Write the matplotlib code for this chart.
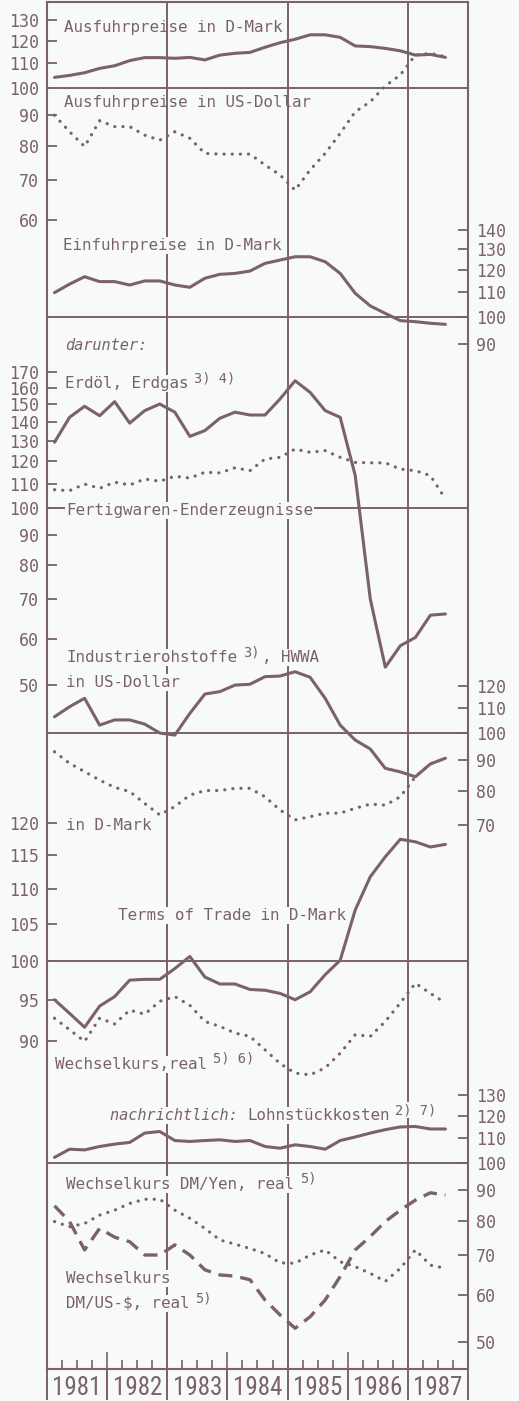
import numpy as np
import matplotlib
matplotlib.use("Agg")
import matplotlib.pyplot as plt
from matplotlib.ticker import FixedLocator, NullLocator, FuncFormatter
from matplotlib import font_manager

# quarterly values 1981 Q1 .. 1987 Q3 (index, 1980 = 100)
quarters = [f"{y}Q{q}" for y in range(1981, 1988) for q in range(1, 5)][:27]

ausfuhr_dm = [104.2, 105.0, 106.1, 107.9, 109.0, 111.2, 112.5, 112.5, 112.2, 112.6, 111.5, 113.6, 114.4, 114.8,
              117.1, 119.2, 120.8, 122.9, 122.9, 121.7, 117.7, 117.4, 116.6, 115.5, 113.6, 113.9, 112.6]
ausfuhr_usd = [90.0, 84.4, 79.7, 88.1, 86.1, 86.1, 83.3, 81.7, 84.4, 82.3, 77.6, 77.4, 77.4, 77.4,
               74.2, 71.4, 67.3, 72.8, 77.6, 83.9, 91.2, 94.8, 100.8, 105.2, 113.6, 114.4, 112.9]
einfuhr_dm = [109.9, 113.6, 116.9, 114.7, 114.7, 113.2, 115.0, 115.0, 113.2, 112.2, 116.2, 118.0, 118.4, 119.5,
              123.1, 124.7, 126.3, 126.3, 123.9, 118.4, 109.6, 104.4, 101.4, 98.6, 98.2, 97.6, 97.2]
erdoel = [129.3, 142.5, 148.8, 143.4, 151.5, 139.3, 146.3, 150.1, 145.4, 132.3, 135.3, 142.0, 145.4, 143.8,
          143.8, 153.1, 164.4, 157.1, 146.3, 142.5, 113.5, 70.1, 53.7, 58.4, 60.3, 65.8, 66.1]
fertigwaren = [107.4, 107.0, 109.8, 108.0, 110.6, 109.4, 112.0, 111.0, 113.2, 112.4, 115.0, 114.7, 117.0, 115.7,
               121.1, 121.9, 125.9, 124.3, 125.1, 121.9, 119.5, 119.3, 119.3, 116.4, 115.7, 113.5, 103.6]
rohstoffe_usd = [106.5, 110.7, 114.4, 103.1, 105.2, 105.2, 103.5, 100.0, 99.2, 107.9, 116.3, 117.4, 120.4, 120.8,
                 124.4, 124.7, 126.8, 124.1, 114.4, 103.1, 97.3, 94.0, 87.2, 86.0, 84.4, 88.7, 90.7]
rohstoffe_dm = [93.0, 88.9, 86.1, 83.3, 81.0, 79.7, 76.1, 72.8, 75.2, 78.6, 80.0, 80.0, 80.7, 80.7,
                78.1, 74.2, 71.4, 72.3, 73.3, 73.3, 74.7, 75.9, 75.6, 78.1, 84.4, 88.7, 90.7]
terms_of_trade = [95.0, 93.3, 91.6, 94.2, 95.4, 97.5, 97.6, 97.6, 99.0, 100.6, 97.9, 97.0, 97.0, 96.3,
                  96.2, 95.8, 95.0, 96.0, 98.2, 100.1, 107.0, 111.8, 114.8, 117.5, 117.1, 116.3, 116.7]
wechselkurs_real = [92.7, 91.3, 89.9, 92.7, 92.0, 93.7, 93.2, 94.8, 95.4, 94.3, 92.3, 91.7, 90.9, 90.5,
                    88.9, 87.3, 86.2, 86.0, 86.8, 88.5, 90.7, 90.5, 92.3, 94.6, 97.1, 95.8, 94.6]
lohnstueckkosten = [102.2, 105.5, 105.2, 106.6, 107.6, 108.3, 112.3, 113.0, 109.1, 108.7, 109.1, 109.4, 108.7, 109.1,
                    106.6, 105.9, 107.3, 106.6, 105.5, 109.1, 110.6, 112.3, 113.8, 115.0, 115.2, 114.1, 114.1]
dm_yen = [79.7, 78.1, 79.1, 81.7, 83.3, 85.5, 86.9, 86.9, 83.3, 80.7, 77.6, 74.2, 73.0, 71.8,
          70.4, 67.9, 67.8, 70.0, 71.4, 68.2, 66.9, 65.2, 63.2, 66.5, 71.4, 67.3, 66.5]
dm_usd = [84.7, 79.7, 71.4, 77.6, 75.0, 73.7, 70.0, 70.0, 72.8, 70.0, 66.1, 64.8, 64.5, 63.6,
          58.8, 55.5, 52.7, 55.1, 58.8, 64.4, 71.4, 75.2, 79.7, 83.3, 86.6, 89.1, 88.3]

years = list(range(1981, 1988))

# plot each quarter in the middle of its quarter
x = np.array([int(q[:4]) + (int(q[-1]) - 0.5) / 4 for q in quarters])

W, H = 519, 1401
L, R, T, B = 47, 468, 2, 1369
INK = "#7a6266"
BG = "#f7f9fb"
MONO = "DejaVu Sans Mono"
FS = 11.4

# a narrow face for the year strip, if one is around
fonts = font_manager.fontManager.ttflist
names = {f.name for f in fonts}
year_font = dict(family="Liberation Sans", fontsize=16)
for cand in ("Liberation Sans Narrow", "Roboto Condensed", "Open Sans Condensed", "DejaVu Sans Condensed"):
    if cand in names:
        year_font = dict(family=cand, fontsize=18)
        break
else:
    if any(f.name == "DejaVu Sans" and f.stretch == "condensed" for f in fonts):
        year_font = dict(family="DejaVu Sans", fontstretch="condensed", fontsize=16.5)

fig = plt.figure(figsize=(W / 100, H / 100), dpi=100, facecolor=BG)
rect = [L / W, 1 - B / H, (R - L) / W, (B - T) / H]

# base axes in pixel rows: frame, separators, labels
base = fig.add_axes(rect, zorder=0, label="base")
base.set_facecolor(BG)
base.set_xlim(1981, 1988)
base.set_ylim(B, T)
base.set_xticks([])
base.set_yticks([])
for s in base.spines.values():
    s.set_color(INK)
    s.set_linewidth(1.5)

# (pixel row of the 100 line, pixels per ln-unit, ticks, side)
scales = {
    "ausfuhr": (88, 258, [60, 70, 80, 90, 100, 110, 120, 130], "left"),
    "einfuhr": (317, 258, [90, 100, 110, 120, 130, 140], "right"),
    "erdoel": (508, 256, [50, 60, 70, 80, 90, 100, 110, 120, 130, 140, 150, 160, 170], "left"),
    "rohstoffe": (733, 258, [70, 80, 90, 100, 110, 120], "right"),
    "tot": (961, 755, [90, 95, 100, 105, 110, 115, 120], "left"),
    "lohn": (1163, 258, [50, 60, 70, 80, 90, 100, 110, 120, 130], "right"),
}

for y0, k, ticks, side in scales.values():
    base.axhline(y0, color=INK, lw=1.4, zorder=1)
for yr in (1983, 1985, 1987):
    base.axvline(yr, color=INK, lw=1.4, zorder=1)

# year strip below the frame
base.vlines(range(1981, 1989), B, H - 1, color=INK, lw=1.4, clip_on=False)
qx = [y + q / 4 for y in years for q in (1, 2, 3)]
base.vlines(qx, B - 9, B, color=INK, lw=1.2)
base.vlines([1982, 1984, 1986], B - 17, B, color=INK, lw=1.2)
for yr in years:
    base.text(yr + 0.5, 1388, str(yr), ha="center", va="center", color=INK, clip_on=False, **year_font)


def label(parts, x0, y_base, box=True):
    xp = x0
    for txt, kind in parts:
        fs = 9.8 if kind == "fn" else (FS * 0.96 if kind == "it" else FS)
        dy = -6 if kind == "fn" else 0
        if kind == "fn":
            xp += 5
        style = "italic" if kind == "it" else "normal"
        bb = dict(fc=BG, ec="none", pad=1.0) if box else None
        base.text(xp / W, 1 - (y_base + dy) / H, txt, transform=fig.transFigure, fontsize=fs,
                  family=MONO, style=style, color=INK, ha="left", va="baseline", bbox=bb, zorder=5)
        xp += len(txt) * 0.602 * fs * 100 / 72 + (3 if kind == "fn" else 0)


label([("Ausfuhrpreise in D-Mark", "n")], 64, 32, box=False)
label([("Ausfuhrpreise in US-Dollar", "n")], 64, 107, box=False)
label([("Einfuhrpreise in D-Mark", "n")], 63, 250)
label([("darunter:", "it")], 65, 350)
label([("Erdöl, Erdgas", "n"), ("3) 4)", "fn")], 65, 388)
label([("Fertigwaren-Enderzeugnisse", "n")], 66, 515)
label([("Industrierohstoffe", "n"), ("3)", "fn"), (", HWWA", "n")], 66, 662)
label([("in US-Dollar", "n")], 66, 687)
label([("in D-Mark", "n")], 66, 830)
label([("Terms of Trade in D-Mark", "n")], 118, 920)
label([("Wechselkurs,real", "n"), ("5) 6)", "fn")], 55, 1069)
label([("nachrichtlich: ", "it"), ("Lohnstückkosten", "n"), ("2) 7)", "fn")], 110, 1120)
label([("Wechselkurs DM/Yen, real", "n"), ("5)", "fn")], 66, 1189)
label([("Wechselkurs", "n")], 66, 1283)
label([("DM/US-$, real", "n"), ("5)", "fn")], 66, 1308)


def scale_axes(name):
    y0, k, ticks, side = scales[name]
    ax = fig.add_axes(rect, zorder=2, label=name)
    ax.set_yscale("log")
    ax.set_xlim(1981, 1988)
    ax.set_ylim(100 * np.exp((y0 - B) / k), 100 * np.exp((y0 - T) / k))
    ax.patch.set_visible(False)
    for s in ax.spines.values():
        s.set_visible(False)
    ax.set_xticks([])
    ax.yaxis.set_major_locator(FixedLocator(ticks))
    ax.yaxis.set_minor_locator(NullLocator())
    ax.yaxis.set_major_formatter(FuncFormatter(lambda v, p: f"{v:g}"))
    ax.yaxis.set_ticks_position(side)
    ax.yaxis.set_label_position(side)
    ax.tick_params(axis="y", direction="in", length=7, width=1.3, color=INK, labelcolor=INK,
                   labelsize=12, pad=5.5)
    for t in ax.get_yticklabels():
        t.set_family(MONO)
    return ax


SOLID = dict(color=INK, lw=2.2, solid_joinstyle="round", solid_capstyle="round")
DOT = dict(color=INK, lw=2.3, linestyle=(0, (0.05, 2.5)), dash_capstyle="round")
DASH = dict(color=INK, lw=2.4, linestyle=(0, (4.2, 2.4)), dash_capstyle="butt")

ax = scale_axes("ausfuhr")
ax.plot(x, ausfuhr_dm, **SOLID)
ax.plot(x, ausfuhr_usd, **DOT)

ax = scale_axes("einfuhr")
ax.plot(x, einfuhr_dm, **SOLID)

ax = scale_axes("erdoel")
ax.plot(x, erdoel, **SOLID)
ax.plot(x, fertigwaren, **DOT)

ax = scale_axes("rohstoffe")
ax.plot(x, rohstoffe_usd, **SOLID)
ax.plot(x, rohstoffe_dm, **DOT)

ax = scale_axes("tot")
ax.plot(x, terms_of_trade, **SOLID)
ax.plot(x, wechselkurs_real, **DOT)

ax = scale_axes("lohn")
ax.plot(x, lohnstueckkosten, **SOLID)
ax.plot(x, dm_yen, **DOT)
ax.plot(x, dm_usd, **DASH)

fig.savefig("out.png", dpi=100, facecolor=BG)
